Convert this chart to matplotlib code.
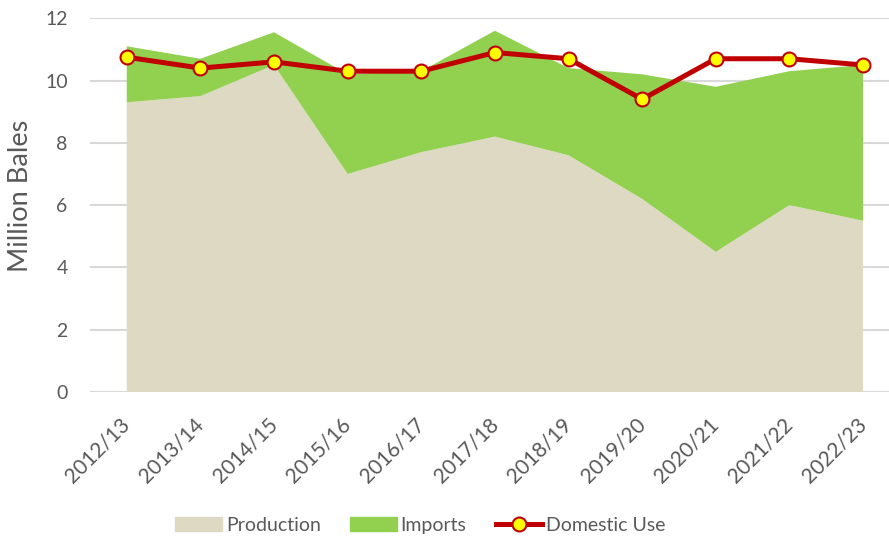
#!/usr/bin/env python3
import matplotlib
matplotlib.use("Agg")
import matplotlib.pyplot as plt
from matplotlib.lines import Line2D
from matplotlib.patches import Patch
import numpy as np

plt.rcParams['font.family'] = ['Lato', 'DejaVu Sans']

years = ["2012/13", "2013/14", "2014/15", "2015/16", "2016/17", "2017/18",
         "2018/19", "2019/20", "2020/21", "2021/22", "2022/23"]
production = [9.3, 9.5, 10.5, 7.0, 7.7, 8.2, 7.6, 6.2, 4.5, 6.0, 5.5]
imports = [1.8, 1.2, 1.05, 3.2, 2.6, 3.4, 2.8, 4.0, 5.3, 4.3, 5.0]
domestic_use = [10.75, 10.4, 10.6, 10.3, 10.3, 10.9, 10.7, 9.4, 10.7, 10.7, 10.5]

grey = '#595959'


def main():
    x = np.arange(len(years))
    fig = plt.figure(figsize=(8.89, 5.37), dpi=100)
    ax = fig.add_axes([0.1012, 0.270, 0.911, 0.696])

    ax.stackplot(x, production, imports, colors=['#DDD9C3', '#92D050'],
                 linewidth=0, zorder=2)
    ax.plot(x, domestic_use, color='#C00000', lw=3.6, marker='o', ms=10,
            mfc='#FFFF00', mec='#C00000', mew=1.5, zorder=4)

    ax.set_xlim(-0.5, 10.5)
    ax.set_ylim(0, 12)
    ax.set_yticks(range(0, 13, 2))
    ax.grid(axis='y', color='#D9D9D9', lw=1.5, zorder=0)
    ax.set_axisbelow(True)
    for s in ax.spines.values():
        s.set_visible(False)
    ax.tick_params(length=0, colors=grey, labelsize=14)
    ax.tick_params(axis='y', pad=16)
    ax.tick_params(axis='x', pad=21, labelsize=15)
    ax.set_xticks(x)
    ax.set_xticklabels(years, rotation=45, ha='right', va='center',
                       rotation_mode='anchor')
    ax.set_ylabel("Million Bales", color=grey, fontsize=19.5)
    ax.yaxis.set_label_coords(-0.0698, 0.524)

    handles = [Patch(color='#DDD9C3'), Patch(color='#92D050'),
               Line2D([], [], color='#C00000', lw=3.6, marker='o', ms=10,
                      mfc='#FFFF00', mec='#C00000', mew=1.5)]
    fig.legend(handles, ["Production", "Imports", "Domestic Use"],
               loc='center', bbox_to_anchor=(0.473, 0.022), ncol=3,
               frameon=False, fontsize=14, labelcolor=grey,
               handlelength=2.4, handleheight=0.7, columnspacing=1.5,
               handletextpad=0.2)

    fig.savefig("out.png", dpi=100)


if __name__ == '__main__':
    main()
